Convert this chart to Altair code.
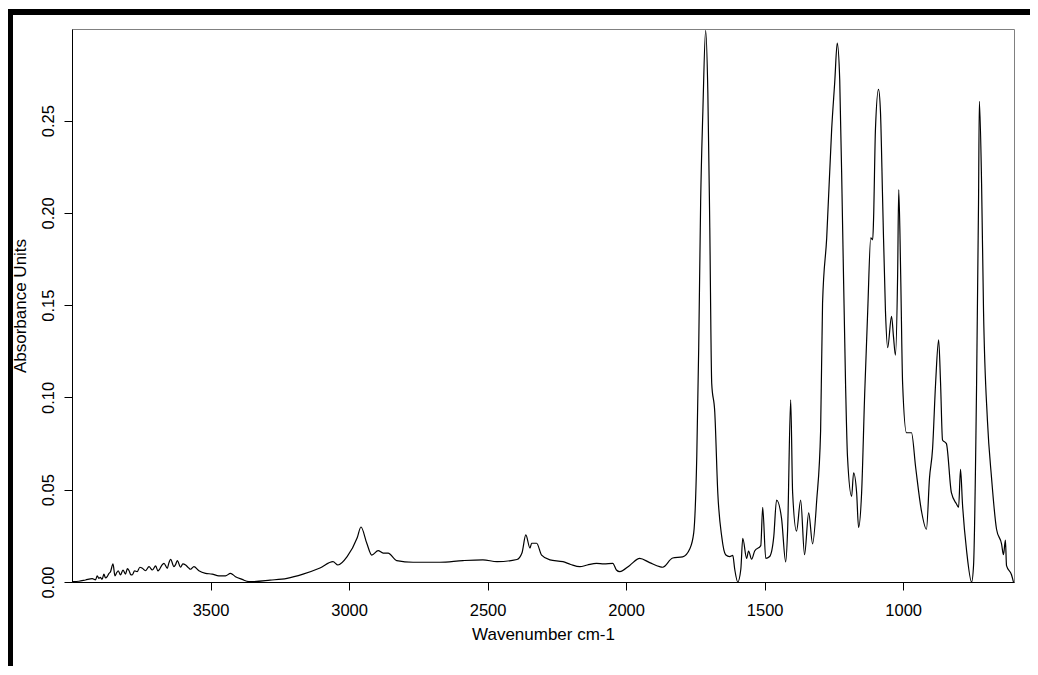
import altair as alt
import pandas as pd

# wavenumber (cm-1) and absorbance
wavenumber = [
    3999, 3975, 3951, 3927, 3915, 3909, 3903, 3898, 3891, 3885,
    3879, 3873, 3867, 3861, 3852, 3845, 3839, 3833, 3825, 3816,
    3807, 3800, 3794, 3788, 3783, 3774, 3765, 3755, 3746, 3735,
    3722, 3710, 3698, 3690, 3684, 3676, 3668, 3656, 3650, 3644,
    3632, 3626, 3620, 3608, 3600, 3590, 3580, 3572, 3560, 3542,
    3518, 3494, 3470, 3446, 3428, 3410,
    3386, 3362, 3350, 3285, 3224, 3166, 3105, 3058, 3040, 3007,
    2971, 2957, 2936, 2918, 2895, 2877, 2859, 2828, 2769, 2672,
    2589, 2517, 2466, 2394, 2376, 2362, 2347, 2341, 2323, 2305,
    2275, 2228, 2200, 2167, 2140, 2107, 2080, 2048, 2035, 2023,
    1987, 1951, 1915, 1879, 1868, 1832, 1796, 1770, 1756, 1745,
    1738, 1731, 1723, 1713, 1705, 1698, 1691, 1680, 1669, 1655,
    1641, 1626, 1615, 1608, 1597, 1586, 1579, 1565, 1558, 1547,
    1536, 1514, 1507, 1496, 1482, 1467, 1457, 1439, 1424, 1417,
    1406, 1399, 1385, 1370, 1356, 1341, 1327, 1312, 1298, 1291,
    1276, 1258, 1247, 1238, 1229, 1219, 1208, 1201, 1186, 1179,
    1168, 1161, 1150, 1139, 1128, 1117, 1110, 1107, 1100, 1089,
    1082, 1074, 1064, 1056, 1042, 1035, 1028, 1020, 1016, 1009,
    1002, 988, 970, 955, 934, 916, 905, 894, 883, 872,
    865, 858, 844, 826, 808, 800, 793, 786, 771, 753,
    746, 735, 728, 725, 717, 710, 696, 681, 663, 645,
    638, 631, 627, 609, 602,
]
absorbance = [
    0.0002, 0.0004, 0.0011, 0.0018, 0.0012, 0.0033, 0.0020, 0.0025, 0.0015, 0.0043,
    0.0022, 0.0029, 0.0045, 0.0056, 0.0098, 0.0033, 0.0050, 0.0061, 0.0038, 0.0065,
    0.0043, 0.0072, 0.0061, 0.0040, 0.0038, 0.0060, 0.0056, 0.0080, 0.0074, 0.0061,
    0.0083, 0.0065, 0.0087, 0.0060, 0.0069, 0.0090, 0.0101, 0.0074, 0.0105, 0.0123,
    0.0083, 0.0095, 0.0116, 0.0080, 0.0098, 0.0092, 0.0078, 0.0069, 0.0083, 0.0061,
    0.0047, 0.0043, 0.0033, 0.0033, 0.0047, 0.0029,
    0.0014, 0.0002, 0.0002, 0.0010, 0.0020, 0.0043, 0.0076, 0.0110, 0.0092, 0.0137,
    0.0238, 0.0298, 0.0210, 0.0146, 0.0170, 0.0157, 0.0157, 0.0116, 0.0107, 0.0107,
    0.0116, 0.0120, 0.0110, 0.0122, 0.0157, 0.0255, 0.0184, 0.0210, 0.0210, 0.0146,
    0.0120, 0.0110, 0.0095, 0.0083, 0.0092, 0.0101, 0.0098, 0.0101, 0.0065, 0.0056,
    0.0090, 0.0128, 0.0105, 0.0083, 0.0080, 0.0130, 0.0136, 0.0180, 0.0266, 0.0680,
    0.1270, 0.2060, 0.2550, 0.2990, 0.2650, 0.1920, 0.1075, 0.0920, 0.0480, 0.0247,
    0.0148, 0.0138, 0.0144, 0.0069, 0.0000, 0.0069, 0.0237, 0.0128, 0.0168, 0.0124,
    0.0168, 0.0197, 0.0405, 0.0128, 0.0138, 0.0247, 0.0444, 0.0345, 0.0109, 0.0286,
    0.0987, 0.0484, 0.0276, 0.0444, 0.0148, 0.0375, 0.0207, 0.0444, 0.0819, 0.1510,
    0.1865, 0.2457, 0.2710, 0.2920, 0.2720, 0.1960, 0.1076, 0.0680, 0.0464, 0.0592,
    0.0484, 0.0296, 0.0484, 0.1016, 0.1470, 0.1865, 0.1855, 0.1960, 0.2457, 0.2670,
    0.2550, 0.2060, 0.1470, 0.1270, 0.1440, 0.1330, 0.1230, 0.1667, 0.2126, 0.1667,
    0.1076, 0.0809, 0.0809, 0.0622, 0.0385, 0.0286, 0.0563, 0.0720, 0.1076, 0.1312,
    0.1076, 0.0770, 0.0750, 0.0484, 0.0424, 0.0405, 0.0610, 0.0424, 0.0168, 0.0000,
    0.0089, 0.1076, 0.2060, 0.2605, 0.2160, 0.1470, 0.0878, 0.0563, 0.0286, 0.0207,
    0.0148, 0.0227, 0.0089, 0.0039, 0.0000,
]

x_ticks = [3500, 3000, 2500, 2000, 1500, 1000]
y_ticks = [0.0, 0.05, 0.10, 0.15, 0.20, 0.25]

df = pd.DataFrame({"wn": wavenumber, "abs": absorbance})

font = "Liberation Sans"

spectrum = alt.Chart(df).mark_line(
    color="black", strokeWidth=1.2, interpolate="monotone"
).encode(
    x=alt.X(
        "wn:Q",
        title="Wavenumber cm-1",
        scale=alt.Scale(domain=[600, 4000], reverse=True, nice=False, zero=False),
        axis=alt.Axis(values=x_ticks, format="d", labelPadding=12, titlePadding=8),
    ),
    y=alt.Y(
        "abs:Q",
        title="Absorbance Units",
        scale=alt.Scale(domain=[0, 0.2997], nice=False),
        axis=alt.Axis(
            values=y_ticks,
            format=".2f",
            labelAngle=270,
            labelAlign="center",
            labelBaseline="bottom",
            labelPadding=8,
            titlePadding=11,
        ),
    ),
)

# thick black frame on the top and left of the picture
one = pd.DataFrame({"k": [0]})
top_bar = alt.Chart(one).mark_rule(color="black", strokeWidth=6).encode(
    x=alt.value(-64), x2=alt.value(958), y=alt.value(-17)
)
left_bar = alt.Chart(one).mark_rule(color="black", strokeWidth=5).encode(
    x=alt.value(-61.5), y=alt.value(-20), y2=alt.value(645)
)

chart = (
    alt.layer(spectrum, top_bar, left_bar)
    .properties(
        width=942,
        height=553,
        autosize="none",
        padding={"left": 64, "top": 21, "right": 16, "bottom": 84},
        background="white",
    )
    .configure_view(stroke="#808080", strokeWidth=1)
    .configure_axis(
        grid=False,
        domainColor="black",
        tickColor="black",
        tickSize=8,
        labelFont=font,
        labelFontSize=16.5,
        labelColor="black",
        titleFont=font,
        titleFontSize=17,
        titleFontWeight="normal",
        titleColor="black",
    )
)

chart.save("out.html", embed_options={"renderer": "svg", "actions": False})
